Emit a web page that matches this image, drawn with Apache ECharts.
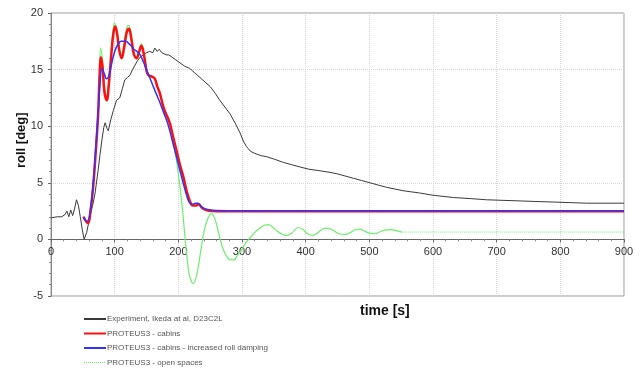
<!DOCTYPE html>
<html>
<head>
<meta charset="utf-8">
<script src="https://cdn.jsdelivr.net/npm/echarts@6/dist/echarts.min.js"></script>
<style>
  html, body { margin: 0; padding: 0; background: #fff; }
  #main { width: 641px; height: 371px; }
</style>
</head>
<body>
<div id="main"></div>
<script>
// experiment, Ikeda
var expTime = [0, 10, 17, 22, 25, 28, 31, 34, 37, 40, 43, 46, 49, 52, 56, 61, 65, 69, 74, 77, 80, 83, 85, 88, 90, 94, 98, 103, 108, 112, 116, 120, 124, 128, 132, 136, 140, 145, 150, 155, 160, 163, 167, 170, 174, 177, 181, 185, 190, 195, 200, 210, 218, 226, 234, 242, 250, 258, 265, 273, 281, 289, 297, 302, 307, 313, 320, 330, 339, 350, 365, 378, 391, 405, 418, 435, 449, 462, 475, 488, 501, 514, 527, 540, 553, 566, 579, 600, 632, 660, 684, 710, 737, 760, 789, 815, 841, 870, 900];
var expRoll = [1.9, 2.0, 2.0, 2.2, 2.5, 2.0, 2.6, 2.1, 2.7, 3.5, 3.0, 2.0, 0.9, 0.0, 0.6, 2.0, 2.9, 4.0, 6.1, 7.5, 8.8, 9.9, 10.3, 9.8, 9.6, 10.6, 11.4, 12.3, 12.5, 13.3, 14.1, 14.3, 14.5, 15.0, 15.4, 15.8, 16.1, 16.3, 16.5, 16.6, 16.5, 16.9, 16.6, 16.8, 16.5, 16.6, 16.3, 16.3, 16.1, 15.9, 15.7, 15.3, 15.1, 14.7, 14.3, 13.9, 13.5, 12.9, 12.3, 11.7, 11.1, 10.3, 9.4, 8.7, 8.2, 7.8, 7.6, 7.4, 7.3, 7.1, 6.8, 6.6, 6.4, 6.2, 6.1, 5.95, 5.8, 5.6, 5.4, 5.2, 5.0, 4.8, 4.6, 4.45, 4.3, 4.2, 4.1, 3.9, 3.7, 3.6, 3.5, 3.45, 3.4, 3.35, 3.3, 3.25, 3.2, 3.2, 3.2];

// PROTEUS3 - cabins
var cabTime = [51, 55, 58.5, 62, 66, 70, 74, 76, 78.5, 81, 84, 87.5, 91, 95, 98, 101, 104, 107, 111, 115, 119, 122.5, 126, 130, 134.5, 138, 142, 146, 150, 153, 158, 163, 167, 171, 175, 179, 183, 187, 192, 197, 202, 208, 213, 218, 223, 228, 232, 237, 244, 255, 265, 300, 400, 500, 600, 700, 800, 900];
var cabRoll = [2.0, 1.6, 1.45, 2.5, 4.5, 7.5, 11.0, 14.0, 16.1, 15.2, 13.0, 12.3, 13.8, 16.5, 18.2, 18.8, 18.1, 16.8, 16.0, 17.0, 18.3, 18.6, 17.8, 16.4, 16.0, 16.5, 17.1, 16.3, 14.9, 14.5, 14.4, 14.2, 13.5, 12.9, 12.0, 11.3, 10.8, 10.2, 9.0, 7.9, 6.7, 5.5, 4.3, 3.4, 3.0, 3.0, 3.1, 2.8, 2.6, 2.5, 2.48, 2.48, 2.48, 2.48, 2.48, 2.48, 2.48, 2.48];

// PROTEUS3 - cabins - increased roll damping
var dampTime = [51, 54, 57, 62, 66, 70, 74, 77, 80, 84, 87, 90, 94, 98, 102, 106, 110, 114, 118, 122, 126, 130, 135, 140, 145, 150, 155, 160, 165, 171, 175, 179, 183, 187, 192, 197, 202, 208, 213, 218, 223, 227, 231, 236, 242, 250, 260, 300, 900];
var dampRoll = [2.0, 1.7, 1.6, 2.6, 4.8, 7.8, 11.2, 13.8, 15.1, 14.6, 14.2, 14.3, 15.2, 16.2, 16.9, 17.3, 17.5, 17.5, 17.5, 17.3, 17.1, 16.8, 16.6, 16.3, 15.7, 15.0, 14.3, 13.6, 12.9, 12.1, 11.5, 10.9, 10.3, 9.5, 8.4, 7.3, 6.2, 4.9, 3.9, 3.2, 3.1, 3.2, 3.2, 2.9, 2.7, 2.6, 2.55, 2.52, 2.5];

// PROTEUS3 - open spaces
var openTime = [51, 55, 58.5, 62, 66, 70, 74, 76, 78, 81, 84, 87, 91, 95, 98, 100, 103, 106, 110, 114, 118, 122, 126, 130, 134, 138, 142, 146, 150, 153, 158, 163, 167, 171, 175, 179, 183, 187, 192, 197, 202, 206, 210, 214, 218, 223.5, 229, 235, 240, 246, 252, 258, 264, 270, 276, 282, 287.5, 293, 300, 306, 312, 320, 328, 335, 341, 348, 356, 363, 370, 378, 388, 396, 403, 411, 418, 425, 431, 438, 445, 452, 462, 470, 478, 485, 492, 500, 509, 516, 524, 535, 543, 551];
var openRoll = [2.0, 1.6, 1.45, 2.5, 4.5, 7.5, 11.0, 14.5, 16.9, 15.8, 13.5, 12.5, 14.2, 17.0, 18.8, 19.1, 18.6, 17.2, 16.0, 17.0, 18.5, 18.9, 18.1, 16.6, 16.0, 16.6, 17.3, 16.4, 15.0, 14.6, 14.4, 14.2, 13.5, 12.9, 12.0, 11.3, 10.7, 10.0, 8.6, 7.0, 4.9, 2.9, 0.5, -1.8, -3.3, -3.9, -3.1, -1.1, 0.6, 1.8, 2.3, 1.7, 0.4, -0.8, -1.5, -1.8, -1.8, -1.4, -0.9, -0.3, 0.1, 0.6, 1.0, 1.25, 1.3, 1.1, 0.7, 0.45, 0.35, 0.55, 1.05, 0.85, 0.5, 0.35, 0.55, 0.85, 1.0, 0.95, 0.75, 0.5, 0.45, 0.6, 0.85, 0.9, 0.75, 0.55, 0.5, 0.65, 0.82, 0.86, 0.75, 0.65];
var openTailTime = [551, 900];
var openTailRoll = [0.65, 0.65];

var names = [
  'Experiment, Ikeda at al, D23C2L',
  'PROTEUS3 - cabins',
  'PROTEUS3 - cabins - increased roll damping',
  'PROTEUS3 - open spaces'
];

function zip(xs, ys) {
  return xs.map(function (x, i) { return [x, ys[i]]; });
}

var font = 'Arial, "Liberation Sans", sans-serif';
var myChart = echarts.init(document.getElementById('main'));
myChart.setOption({
  animation: false,
  grid: {
    left: 51, right: 17, top: 13, bottom: 75,
    show: true, borderColor: '#9a9a9a', borderWidth: 1, backgroundColor: '#fff'
  },
  legend: {
    orient: 'vertical',
    left: 83,
    top: 315,
    padding: 0,
    itemWidth: 22,
    itemHeight: 8,
    itemGap: 6.5,
    itemStyle: { opacity: 0 },
    textStyle: { fontSize: 8, color: '#555', fontFamily: font, padding: [0, 0, 0, -4] },
    data: [
      { name: names[0] },
      { name: names[1] },
      { name: names[2] },
      { name: names[3], lineStyle: { type: 'dotted', width: 1 } }
    ]
  },
  graphic: [
    {
      type: 'text', left: 360, top: 304,
      style: { text: 'time [s]', font: 'bold 14px ' + font, fill: '#111' }
    },
    {
      type: 'text', x: 15, y: 168, rotation: Math.PI / 2,
      style: { text: 'roll [deg]', font: 'bold 13px ' + font, fill: '#111' }
    }
  ],
  xAxis: {
    type: 'value',
    min: 0, max: 900, interval: 100,
    axisLine: { onZero: true, lineStyle: { color: '#666' } },
    axisTick: { show: true, length: 3, lineStyle: { color: '#666' } },
    minorTick: { show: true, splitNumber: 5, length: 2, lineStyle: { color: '#888' } },
    axisLabel: { color: '#333', fontSize: 11, margin: -50, fontFamily: font },
    splitLine: { show: true, lineStyle: { color: '#d4d4d4', type: 'dotted' } }
  },
  yAxis: {
    type: 'value',
    min: -5, max: 20, interval: 5,
    axisLine: { show: true, lineStyle: { color: '#888' } },
    axisTick: { show: true, length: 3, lineStyle: { color: '#666' } },
    minorTick: { show: true, splitNumber: 5, length: 2, lineStyle: { color: '#888' } },
    axisLabel: { color: '#333', fontSize: 11, margin: 8, fontFamily: font },
    splitLine: { show: true, lineStyle: { color: '#d4d4d4', type: 'dotted' } }
  },
  series: [
    {
      name: names[3], type: 'line', symbol: 'none', smooth: 0.4,
      color: '#6cee6c', lineStyle: { width: 1.2 },
      data: zip(openTime, openRoll)
    },
    {
      name: names[3], type: 'line', symbol: 'none',
      color: '#6cee6c', lineStyle: { width: 1, type: 'dotted' },
      data: zip(openTailTime, openTailRoll)
    },
    {
      name: names[0], type: 'line', symbol: 'none',
      color: '#3a3a3a', lineStyle: { width: 1 },
      data: zip(expTime, expRoll)
    },
    {
      name: names[1], type: 'line', symbol: 'none', smooth: 0.4,
      color: '#ff1010', lineStyle: { width: 2.5 },
      data: zip(cabTime, cabRoll)
    },
    {
      name: names[2], type: 'line', symbol: 'none', smooth: 0.4,
      color: '#3232ff', lineStyle: { width: 1.5 },
      data: zip(dampTime, dampRoll)
    }
  ]
});
</script>
</body>
</html>
